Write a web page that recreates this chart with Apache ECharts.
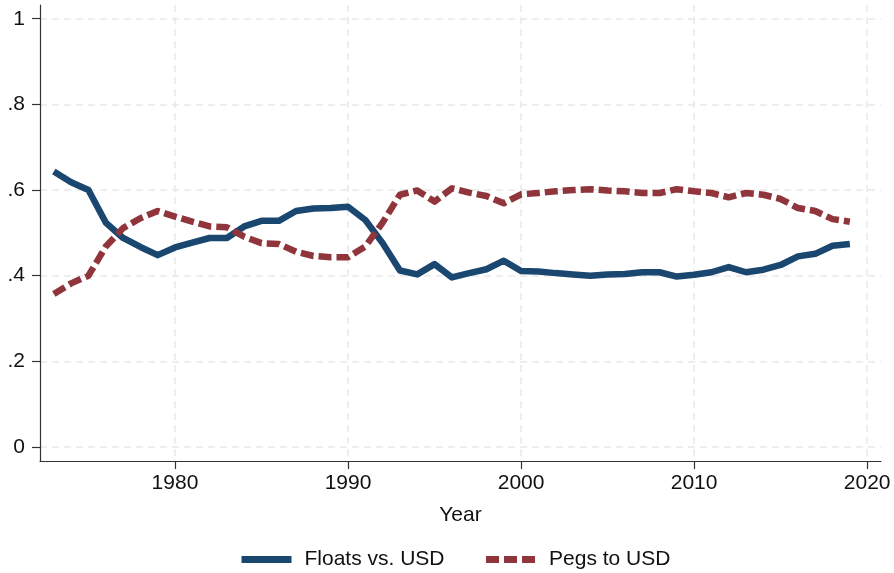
<!DOCTYPE html>
<html>
<head>
<meta charset="utf-8">
<script src="https://cdn.jsdelivr.net/npm/echarts@6/dist/echarts.min.js"></script>
<style>
html,body{margin:0;padding:0;background:#fff;}
#chart{width:894px;height:573px;}
</style>
</head>
<body>
<div id="chart"></div>
<script>
var years = [1973,1974,1975,1976,1977,1978,1979,1980,1981,1982,1983,1984,1985,1986,1987,1988,1989,1990,1991,1992,1993,1994,1995,1996,1997,1998,1999,2000,2001,2002,2003,2004,2005,2006,2007,2008,2009,2010,2011,2012,2013,2014,2015,2016,2017,2018,2019];
var floatsVsUSD = [0.643,0.618,0.600,0.524,0.488,0.467,0.448,0.466,0.477,0.488,0.488,0.515,0.528,0.528,0.551,0.557,0.558,0.561,0.530,0.476,0.412,0.403,0.427,0.396,0.406,0.415,0.435,0.411,0.410,0.406,0.403,0.400,0.403,0.404,0.408,0.408,0.398,0.402,0.408,0.420,0.408,0.414,0.425,0.445,0.451,0.470,0.474];
var pegsToUSD = [0.357,0.382,0.400,0.468,0.511,0.534,0.551,0.538,0.526,0.515,0.513,0.491,0.476,0.474,0.456,0.446,0.443,0.443,0.468,0.524,0.589,0.599,0.573,0.604,0.594,0.586,0.569,0.590,0.593,0.597,0.600,0.602,0.599,0.597,0.593,0.593,0.602,0.597,0.593,0.583,0.593,0.589,0.579,0.558,0.551,0.532,0.526];
var xTicks = [1980,1990,2000,2010,2020];
var yTicks = [0,0.2,0.4,0.6,0.8,1];
var seriesNames = ['Floats vs. USD','Pegs to USD'];

function pairs(xs, ys){ return xs.map(function(x,i){ return [x, ys[i]]; }); }
function yLabel(v){
  if (Math.abs(v) < 1e-9) return '0';
  if (Math.abs(v-1) < 1e-9) return '1';
  return String(Math.round(v*10)/10).replace(/^0\./,'.');
}
function xLabel(v){ return String(Math.round(v)); }

var FONT = '"Liberation Sans", Arial, Helvetica, sans-serif';
var FS = 21;
var chart = echarts.init(document.getElementById('chart'), null, {renderer:'canvas'});
chart.setOption({
  animation:false,
  backgroundColor:'#ffffff',
  textStyle:{fontFamily:FONT},
  grid:{left:40, right:13, top:5, bottom:112, containLabel:false},
  xAxis:{
    type:'value', min:1972.2, max:2020.8,
    name:'Year', nameLocation:'middle', nameGap:44,
    nameTextStyle:{fontSize:FS, color:'#111', fontFamily:FONT},
    axisLine:{show:true, onZero:false, lineStyle:{color:'#333', width:1.2}},
    axisTick:{show:true, length:8, customValues:xTicks, lineStyle:{color:'#333', width:1.2}},
    axisLabel:{customValues:xTicks, fontSize:FS, color:'#111', margin:12, fontFamily:FONT, formatter:xLabel},
    splitLine:{show:true, lineStyle:{color:'#e9e9e9', width:1.5, type:[7,5]}}
  },
  yAxis:{
    type:'value', min:-0.0327, max:1.032,
    axisLine:{show:true, onZero:false, lineStyle:{color:'#333', width:1.2}},
    axisTick:{show:true, length:8, customValues:yTicks, lineStyle:{color:'#333', width:1.2}},
    axisLabel:{customValues:yTicks, fontSize:FS, color:'#111', margin:15, fontFamily:FONT, formatter:yLabel},
    splitLine:{show:true, lineStyle:{color:'#e9e9e9', width:1.5, type:[7,5]}}
  },
  legend:{
    show:true, padding:0,
    left:238, top:549, itemWidth:50, itemHeight:14, itemGap:38,
    data:seriesNames,
    itemStyle:{opacity:0},
    lineStyle:{width:7},
    textStyle:{fontSize:FS, color:'#111', fontFamily:FONT, padding:[0,0,0,8]}
  },
  series:[
    {name:seriesNames[0], type:'line', data:pairs(years, floatsVsUSD), showSymbol:false, symbol:'none',
     lineStyle:{color:'#1a476f', width:6.5, cap:'butt', join:'round'}, itemStyle:{color:'#1a476f'}, color:'#1a476f'},
    {name:seriesNames[1], type:'line', data:pairs(years, pegsToUSD), showSymbol:false, symbol:'none',
     lineStyle:{color:'#90353b', width:6.5, type:[13,5], cap:'butt', join:'round'}, itemStyle:{color:'#90353b'}, color:'#90353b'}
  ]
});
</script>
</body>
</html>
